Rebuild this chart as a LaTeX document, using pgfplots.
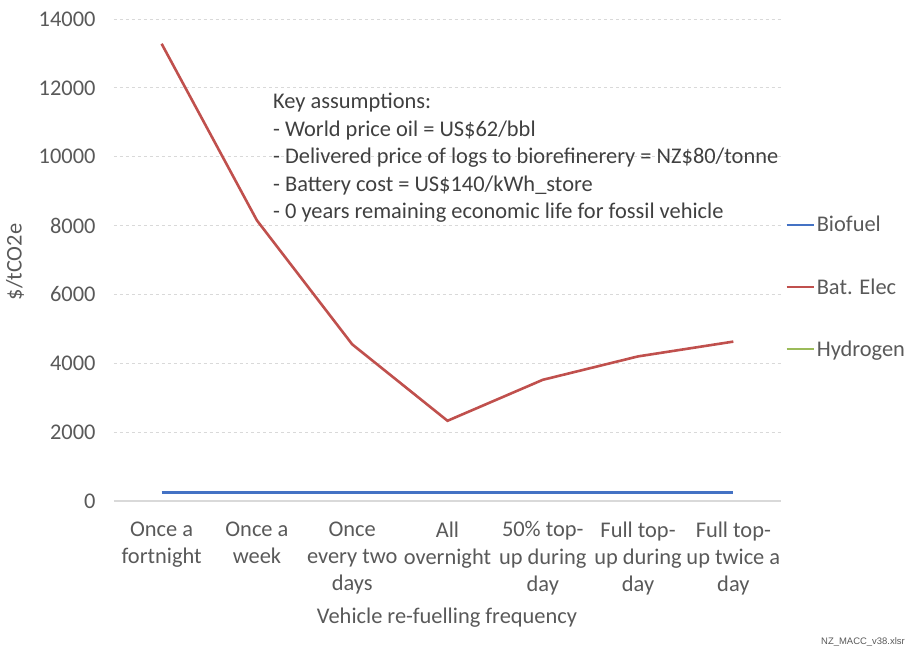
\documentclass[border=0pt]{standalone}
\usepackage{pgfplots}
\pgfplotsset{compat=1.18}
\usepackage{fontspec}
\setmainfont{Carlito}
\newfontfamily\footfont{Liberation Sans}
\definecolor{bioblue}{HTML}{4472C4}
\definecolor{batred}{HTML}{C0504D}
\definecolor{hydgreen}{HTML}{9BBB59}
\definecolor{txtgray}{HTML}{595959}
\definecolor{annot}{HTML}{404040}
\definecolor{gridgray}{HTML}{D9D9D9}
\newcommand{\bigf}{\fontsize{22.5}{27.5}\selectfont}
\begin{document}
\begin{tikzpicture}
\useasboundingbox (-114bp,-152bp) rectangle (793bp,501bp);
\begin{axis}[
  at={(0,0)}, anchor=south west,
  scale only axis, width=667bp, height=482bp,
  xmin=-0.5, xmax=6.5, ymin=0, ymax=14000,
  axis line style={draw=none}, tick style={draw=none},
  ymajorgrids, grid style={dashed, gridgray, line width=0.8bp},
  ytick={2000,4000,...,14000},
  extra y ticks={0},
  extra y tick style={grid style={solid, gridgray, line width=1.3bp}},
  scaled y ticks=false,
  /pgf/number format/assume math mode=true,
  /pgf/number format/set thousands separator={},
  yticklabel style={font=\bigf, text=txtgray, xshift=-15bp},
  xtick={0,...,6},
  xticklabels={{Once a\\fortnight},{Once a\\week},{Once\\every two\\days},{All\\overnight},{50\% top-\\up during\\day},{Full top-\\up during\\day},{Full top-\\up twice a\\day}},
  xticklabel style={align=center, font=\bigf, text=txtgray, yshift=-17bp},
  legend cell align=left,
  legend style={at={(1.006,0.444)}, anchor=west, draw=none, fill=none, inner sep=0pt,
    font=\bigf, text=txtgray, row sep=41bp,
    /tikz/every even column/.append style={column sep=2bp}},
  legend image code/.code={\draw[#1] (0bp,0bp) -- (27bp,0bp);},
  clip=false,
]
\addplot[bioblue, line width=2.6bp] coordinates {(0,245) (1,245) (2,245) (3,245) (4,245) (5,245) (6,245)};
\addlegendentry{Biofuel}
\addplot[batred, line width=2.6bp] coordinates {(0,13280) (1,8150) (2,4550) (3,2330) (4,3520) (5,4200) (6,4630)};
\addlegendentry{Bat. Elec}
\addlegendimage{hydgreen, line width=2.6bp}
\addlegendentry{Hydrogen}
\end{axis}
\node[rotate=90, font=\bigf, text=txtgray] at (-99bp,239bp) {\$/tCO2e};
\node[font=\bigf, text=txtgray] at (333bp,-117bp) {Vehicle re-fuelling frequency};
\begin{scope}[every node/.style={anchor=base west, inner sep=0pt, font=\bigf, text=annot}]
\node at (159bp,392bp) {Key assumptions:};
\node at (159bp,364.5bp) {- World price oil = US\$62/bbl};
\node at (159bp,337bp) {- Delivered price of logs to biorefinerery = NZ\$80/tonne};
\node at (159bp,309.5bp) {- Battery cost = US\$140/kWh\_store};
\node at (159bp,282bp) {- 0 years remaining economic life for fossil vehicle};
\end{scope}
\node[anchor=base east, inner sep=0pt, font=\footfont\fontsize{9.5}{11}\selectfont, text=txtgray] at (791bp,-143bp) {NZ\_MACC\_v38.xlsr};
\end{tikzpicture}
\end{document}
